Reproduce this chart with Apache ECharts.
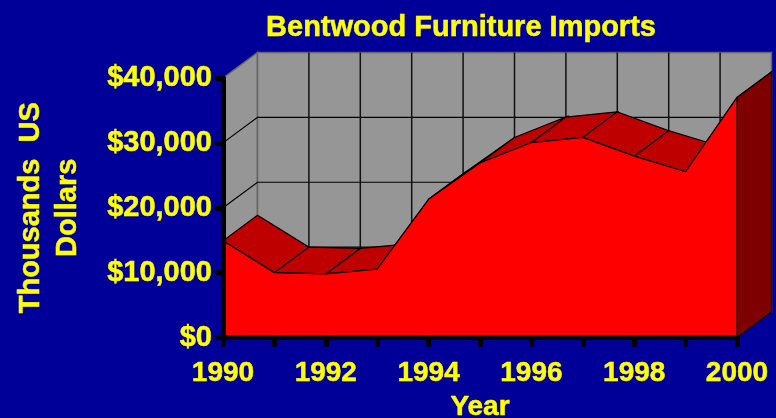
<!DOCTYPE html>
<html>
<head>
<meta charset="utf-8">
<style>
html,body{margin:0;padding:0;background:#000099;}
#chart{width:776px;height:418px;}
</style>
<script src="https://cdn.jsdelivr.net/npm/echarts@6/dist/echarts.min.js"></script>
</head>
<body>
<div id="chart"></div>
<script>
var years = ['1990','1991','1992','1993','1994','1995','1996','1997','1998','1999','2000'];
var imports = [14900,10000,9800,10550,21300,26900,30050,30850,27950,25550,37000];
var yTicks = [10000,20000,30000,40000];

var font = '"Liberation Sans", Arial, sans-serif';
var yellow = '#ffff00';
// depth of the fake 3d box, in px
var dx = 34.5, dy = -25.5;

function back(p){ return [p[0]+dx, p[1]+dy]; }

// bold text in the reference is a bit heavier than the installed font
function boldText(size, extra){
    return Object.assign({color:yellow, fontFamily:font, fontWeight:'bold', fontSize:size,
        textBorderColor:yellow, textBorderWidth:0.5}, extra||{});
}

var chart = echarts.init(document.getElementById('chart'));

function renderWalls(params, api){
    var last = years.length-1;
    var bl = api.coord([0,0]), tl = api.coord([0,40000]);
    var br = api.coord([last,0]), tr = api.coord([last,40000]);
    var wallStyle = {fill:'#969696', stroke:'#666666', lineWidth:1.5};
    var kids = [
        {type:'polygon', shape:{points:[tl,back(tl),back(bl),bl]}, style:wallStyle},
        {type:'polygon', shape:{points:[back(tl),back(tr),back(br),back(bl)]}, style:wallStyle}
    ];
    yTicks.forEach(function(v){
        if(v===40000)return;
        var a = api.coord([0,v]), b = api.coord([last,v]);
        kids.push({type:'polyline', shape:{points:[a,back(a),back(b)]}, style:{fill:null,stroke:'#000000',lineWidth:1.2}});
    });
    years.forEach(function(y,i){
        if(i===0||i===last)return;
        var a = back(api.coord([i,0])), b = back(api.coord([i,40000]));
        kids.push({type:'line', shape:{x1:a[0],y1:a[1],x2:b[0],y2:b[1]}, style:{stroke:'#111111',lineWidth:1.5}});
    });
    return {type:'group', children:kids};
}

function renderTop(params, api){
    var i = params.dataIndex;
    if(i>=imports.length-1)return;
    var a = api.coord([i,imports[i]]), b = api.coord([i+1,imports[i+1]]);
    return {type:'polygon', shape:{points:[a,b,back(b),back(a)]},
        style:{fill:'#bf0000', stroke:'#000000', lineWidth:1.2}};
}

function renderSide(params, api){
    var last = years.length-1;
    var a = api.coord([last,imports[last]]), b = api.coord([last,0]);
    return {type:'polygon', shape:{points:[a,back(a),back(b),b]},
        style:{fill:'#7f0000', stroke:'#000000', lineWidth:1.2}};
}

chart.setOption({
    backgroundColor:'#000099',
    animation:false,
    title:{
        text:'Bentwood Furniture Imports',
        left:456, top:8, textAlign:'center',
        textStyle:boldText(29)
    },
    grid:{left:223, right:39, top:78, bottom:80.5, outerBoundsMode:'none'},
    xAxis:{
        type:'category', data:years, boundaryGap:false, z:10,
        name:'Year', nameLocation:'middle', nameGap:55,
        nameTextStyle:boldText(28),
        axisLine:{lineStyle:{color:'#000000', width:5}},
        axisTick:{interval:0, length:7, lineStyle:{color:'#000000', width:5, cap:'round'}},
        axisLabel:boldText(28,{interval:1, showMinLabel:true, showMaxLabel:true, margin:22}),
        splitLine:{show:false}
    },
    yAxis:{
        type:'value', min:0, max:40000, interval:10000, z:10,
        name:'Thousands  US\nDollars', nameLocation:'middle', nameRotate:90, nameGap:137,
        nameTextStyle:boldText(29,{lineHeight:37}),
        axisLine:{show:true, lineStyle:{color:'#000000', width:5}},
        axisTick:{show:true, length:6, lineStyle:{color:'#000000', width:5, cap:'round'}},
        axisLabel:boldText(29,{margin:11, padding:[8,0,0,0],
            formatter:function(v){ return '$'+v.toLocaleString('en-US'); }}),
        splitLine:{show:false}
    },
    series:[
        {type:'custom', data:[0], renderItem:renderWalls, silent:true, clip:false, z:1},
        {type:'custom', data:imports.map(function(v,i){return [i,v];}), renderItem:renderTop, silent:true, clip:false, z:2},
        {type:'line', data:imports, symbol:'none', silent:true, z:3,
            lineStyle:{color:'#000000', width:1.2},
            areaStyle:{color:'#ff0000', opacity:1}},
        {type:'custom', data:[0], renderItem:renderSide, silent:true, clip:false, z:4}
    ]
});
</script>
</body>
</html>
